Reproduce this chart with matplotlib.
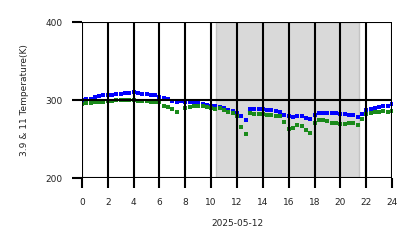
import numpy as np
import matplotlib
matplotlib.use('Agg')
import matplotlib.pyplot as plt

# время в часах (шаг 20 минут)
hours = np.round(np.arange(0, 24.01, 1 / 3), 3)

# 3.9 мкм канал
t39 = [300, 301, 302, 304, 305, 306, 307, 307, 308, 308, 309, 309,
       310, 309, 308, 308, 307, 306, 304, 303, 301, 299, 298, 299,
       298, 297, 297, 296, 295, 294, 293, 292, 291, 290, 287, 286,
       283, 279, 275, 289, 288, 288, 288, 287, 287, 286, 285, 281,
       279, 278, 280, 279, 277, 276, 281, 284, 284, 284, 283, 283,
       282, 282, 281, 281, 278, 282, 287, 289, 290, 291, 292, 292, 295]

# 11 мкм канал
t11 = [295, 296, 296, 297, 298, 298, 299, 299, 300, 300, 300, 300,
       300, 299, 299, 299, 298, 298, 297, 293, 291, 289, 285, np.nan,
       290, 291, 292, 292, 292, 291, 290, 289, 290, 287, 285, 283,
       280, 266, 256, 283, 282, 282, 282, 281, 281, 280, 279, 272,
       263, 264, 268, 267, 262, 258, 270, 275, 274, 273, 271, 270,
       269, 269, 270, 270, 268, 276, 282, 284, 285, 285, 286, 285, 286]

night_start = 10.35
night_end = 21.45

fig = plt.figure(figsize=(4.18, 2.48), dpi=100)
ax = fig.add_axes([0.196, 0.282, 0.742, 0.629])

# ночь
ax.axvspan(night_start, night_end, facecolor='#d9d9d9', edgecolor='#c4c4c4',
           linewidth=1.0, zorder=0)

# точки под сеткой
ax.plot(hours, t39, 's', color='#0000ff', markersize=2.8, markeredgewidth=0, zorder=2)
ax.plot(hours, t11, 's', color='#1a8a1a', markersize=2.8, markeredgewidth=0, zorder=2.1)

ax.set_xlim(0, 24)
ax.set_ylim(200, 400)
ax.set_xticks(range(0, 25, 2))
ax.set_yticks([200, 300, 400])

# сетка черная поверх всего
ax.set_axisbelow(False)
ax.grid(True, color='black', linewidth=1.5)
for s in ax.spines.values():
    s.set_visible(False)

ax.tick_params(axis='both', length=7, width=1.5, color='black',
               labelsize=6.5, labelcolor='#222222', pad=7)

ax.set_xlabel('2025-05-12', fontsize=6.5, color='#222222', labelpad=9)
ax.set_ylabel('3.9 & 11 Temperature(K)', fontsize=6.5, color='#222222', labelpad=12)

fig.savefig('out.png', dpi=100)
